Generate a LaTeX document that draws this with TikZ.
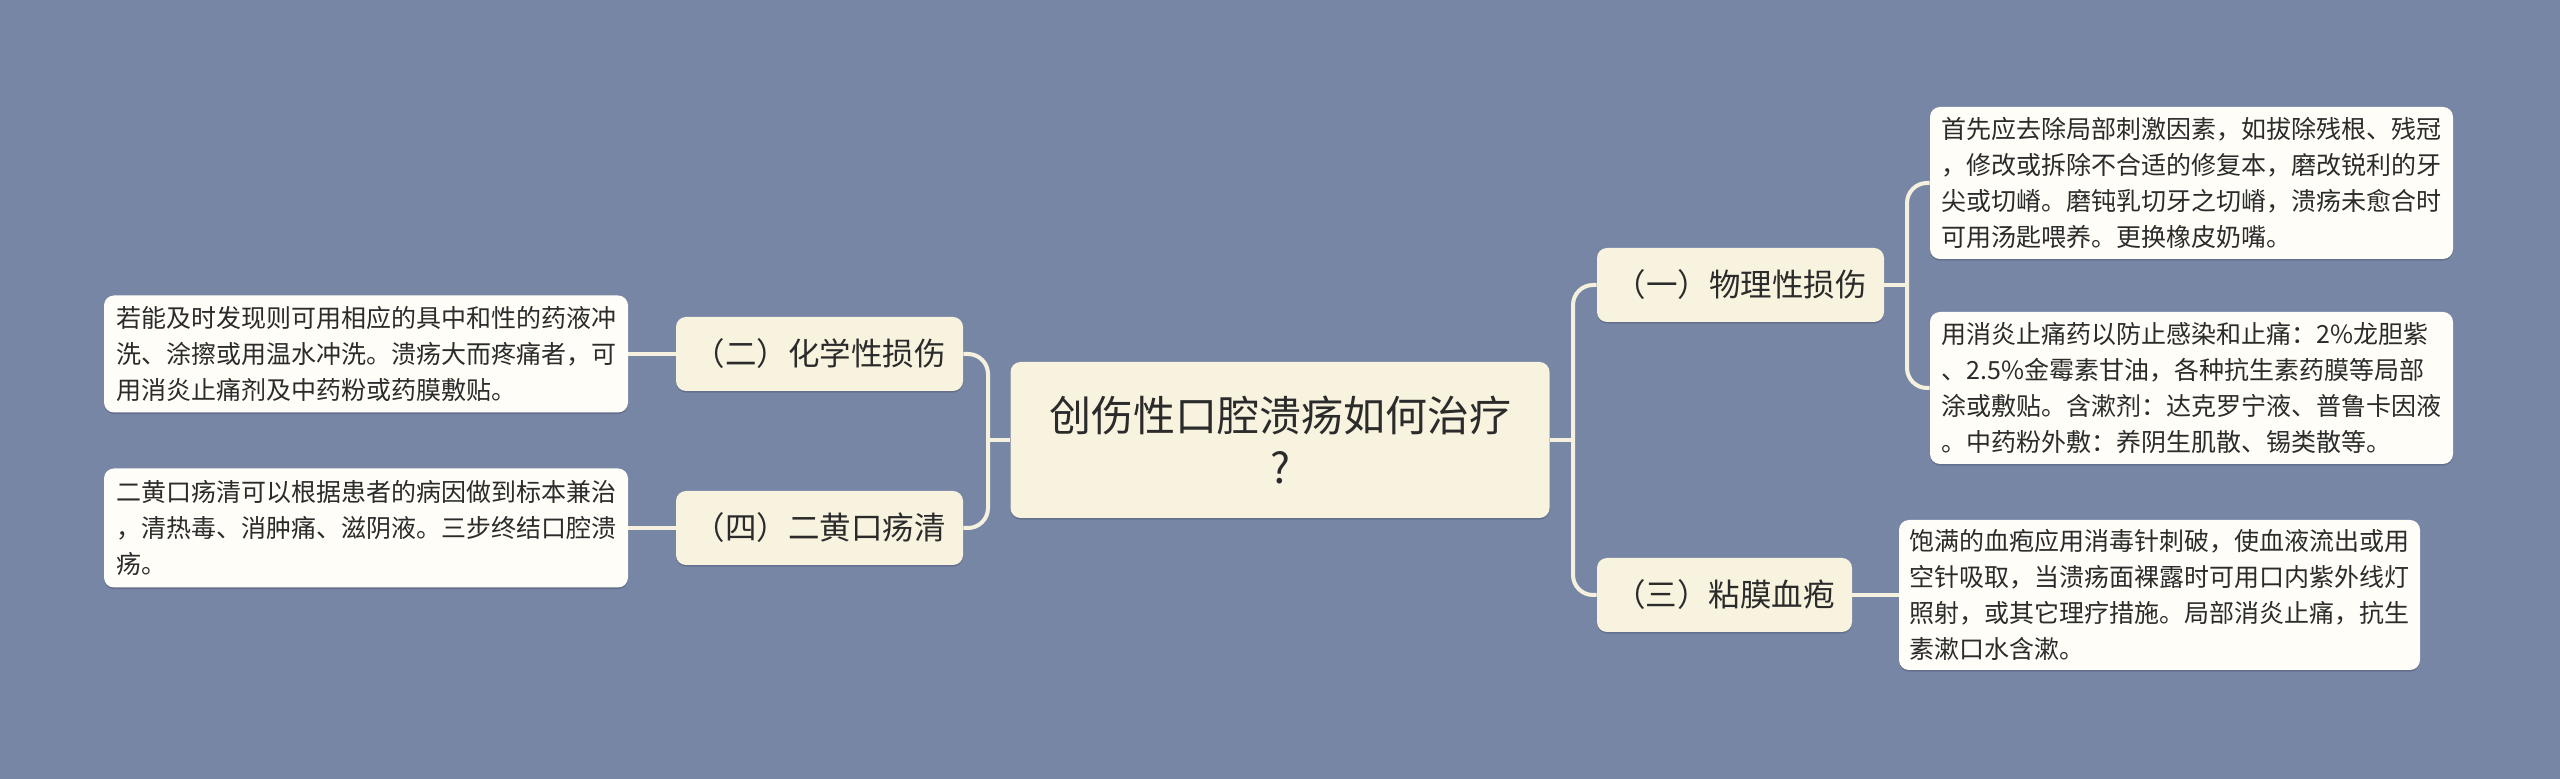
\documentclass[tikz,border=0pt]{standalone}
\usepackage{fontspec}
\setmainfont{Noto Sans CJK SC}
\usetikzlibrary{shadows}
\definecolor{slate}{HTML}{7886A6}
\definecolor{cream}{HTML}{F8F3DF}
\definecolor{paper}{HTML}{FEFDF7}
\definecolor{ink}{HTML}{2B2B2B}
\definecolor{wire}{HTML}{F6F1DE}
\definecolor{dusk}{HTML}{5E6A86}

\tikzset{
  lift/.style={drop shadow={shadow xshift=0pt, shadow yshift=-0.8pt, fill=dusk, opacity=0.8}},
  topic/.style={fill=cream, rounded corners=5pt, text=ink, align=center, inner sep=0pt, lift},
  branch/.style={topic, font=\fontsize{15.75}{19}\selectfont, minimum height=37pt},
  leaf/.style={fill=paper, rounded corners=5pt, text=ink, align=left, inner sep=0pt, lift,
    minimum width=260.5pt, font=\fontsize{12.5}{18}\selectfont},
  link/.style={wire, line width=2pt, rounded corners=10pt},
}

\begin{document}
\begin{tikzpicture}[x=0.5pt,y=-0.5pt]

\fill[slate] (0,0) rectangle (2560,779);
\useasboundingbox (0,0) rectangle (2560,779);

\node[topic, minimum width=269.5pt, minimum height=78pt, font=\fontsize{21}{26}\selectfont]
  (root) at (1280,440) {创伤性口腔溃疡如何治疗\\?};

\node[branch, minimum width=143.5pt] (chem) at (819.5,354) {（二）化学性损伤};
\node[branch, minimum width=143.5pt] (herb) at (819.5,528) {（四）二黄口疡清};
\node[branch, minimum width=143.5pt] (phys) at (1740.5,285) {（一）物理性损伤};
\node[branch, minimum width=127.5pt] (blister) at (1724.5,595) {（三）粘膜血疱};

\node[leaf, minimum width=261.5pt, minimum height=76pt] (physa) at (2191.5,183)
  {首先应去除局部刺激因素，如拔除残根、残冠\\，修改或拆除不合适的修复本，磨改锐利的牙\\尖或切嵴。磨钝乳切牙之切嵴，溃疡未愈合时\\可用汤匙喂养。更换橡皮奶嘴。};
\node[leaf, minimum width=261.5pt, minimum height=76pt] (physb) at (2191.5,388)
  {用消炎止痛药以防止感染和止痛：2\%龙胆紫\\、2.5\%金霉素甘油，各种抗生素药膜等局部\\涂或敷贴。含漱剂：达克罗宁液、普鲁卡因液\\。中药粉外敷：养阴生肌散、锡类散等。};
\node[leaf, minimum height=75pt] (blistertxt) at (2159.5,595)
  {饱满的血疱应用消毒针刺破，使血液流出或用\\空针吸取，当溃疡面裸露时可用口内紫外线灯\\照射，或其它理疗措施。局部消炎止痛，抗生\\素漱口水含漱。};
\node[leaf, minimum width=262pt, minimum height=58.5pt] (chemtxt) at (366,354)
  {若能及时发现则可用相应的具中和性的药液冲\\洗、涂擦或用温水冲洗。溃疡大而疼痛者，可\\用消炎止痛剂及中药粉或药膜敷贴。};
\node[leaf, minimum width=262pt, minimum height=59.5pt] (herbtxt) at (366,528)
  {二黄口疡清可以根据患者的病因做到标本兼治\\，清热毒、消肿痛、滋阴液。三步终结口腔溃\\疡。};

\coordinate (lspine) at (988,440);
\coordinate (rspine) at (1573,440);
\coordinate (pspine) at (1907,285);

\draw[link] (root.west) -- (lspine);
\draw[link] (chem.east) -| (lspine) |- (herb.east);
\draw[link] (root.east) -- (rspine);
\draw[link] (phys.west) -| (rspine) |- (blister.west);
\draw[link] (phys.east) -- (pspine);
\draw[link] (physa.west) -| (pspine) |- (physb.west);
\draw[link] (blister.east) -- (blistertxt.west);
\draw[link] (chemtxt.east) -- (chem.west);
\draw[link] (herbtxt.east) -- (herb.west);

\end{tikzpicture}
\end{document}
